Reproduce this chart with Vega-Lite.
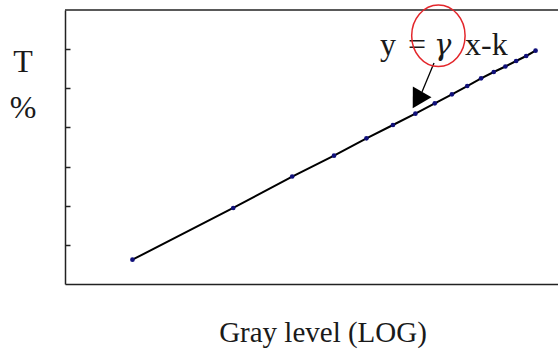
{
  "$schema": "https://vega.github.io/schema/vega-lite/v6.json",
  "width": 493,
  "height": 274,
  "autosize": {"type": "none"},
  "padding": {"left": 65, "top": 10, "right": 0, "bottom": 66},
  "background": "white",
  "config": {"view": {"stroke": null}},
  "datasets": {
    "series": [
      {"gray": 16, "t": 6.21},
      {"gray": 32, "t": 19.42},
      {"gray": 48, "t": 27.46},
      {"gray": 64, "t": 32.78},
      {"gray": 80, "t": 37.22},
      {"gray": 96, "t": 40.62},
      {"gray": 112, "t": 43.51},
      {"gray": 128, "t": 46.16},
      {"gray": 144, "t": 48.46},
      {"gray": 160, "t": 50.58},
      {"gray": 176, "t": 52.55},
      {"gray": 192, "t": 54.16},
      {"gray": 208, "t": 55.57},
      {"gray": 224, "t": 56.97},
      {"gray": 240, "t": 58.25},
      {"gray": 256, "t": 59.60}
    ],
    "eq": [
      {"label": "y", "gray": 87.8, "t": 58.5},
      {"label": "=", "gray": 106.5, "t": 58.5},
      {"label": "x-k", "gray": 157.6, "t": 58.5}
    ],
    "gamma": [{"label": "γ", "gray": 127.3, "t": 58.5}],
    "shaft": [{"gray": 127.3, "t": 56.46, "gray2": 117.2, "t2": 49.05}],
    "head": [{"gray": 113.6, "t": 46.99}],
    "ellipse": [{"gray": 131.2, "t": 63.41}],
    "top": [{"t": 70}]
  },
  "layer": [
    {
      "data": {"name": "series"},
      "mark": {"type": "line", "color": "#000000", "strokeWidth": 2},
      "encoding": {
        "x": {
          "field": "gray", "type": "quantitative",
          "scale": {"type": "log", "domain": [10.06, 298.7], "nice": false, "zero": false},
          "axis": {
            "title": "Gray level (LOG)", "labels": false, "ticks": false, "grid": false,
            "domain": true, "domainColor": "#222222", "domainWidth": 1.5,
            "titleFont": "Liberation Serif", "titleFontSize": 29, "titleFontWeight": "normal",
            "titleColor": "#1a1a1a", "titleX": 257.5, "titleY": 57, "titleAlign": "center",
            "titleBaseline": "alphabetic"
          }
        },
        "y": {
          "field": "t", "type": "quantitative",
          "scale": {"domain": [0, 70], "nice": false, "zero": false},
          "axis": {
            "title": ["T", "%"], "values": [10, 20, 30, 40, 50, 60], "labels": false,
            "ticks": true, "tickSize": -5, "tickColor": "#222222", "tickWidth": 1.5, "grid": false,
            "domain": true, "domainColor": "#222222", "domainWidth": 1.5,
            "titleFont": "Liberation Serif", "titleFontSize": 32, "titleFontWeight": "normal",
            "titleColor": "#1a1a1a", "titleAngle": 0, "titleX": -42.5, "titleY": 36.4,
            "titleAlign": "center", "titleBaseline": "top", "titleLineHeight": 46.3
          }
        }
      }
    },
    {
      "data": {"name": "series"},
      "mark": {"type": "point", "filled": true, "color": "#10107a", "size": 22, "opacity": 1},
      "encoding": {
        "x": {"field": "gray", "type": "quantitative"},
        "y": {"field": "t", "type": "quantitative"}
      }
    },
    {
      "data": {"name": "top"},
      "mark": {"type": "rule", "color": "#222222", "strokeWidth": 1.5},
      "encoding": {"y": {"field": "t", "type": "quantitative"}}
    },
    {
      "data": {"name": "eq"},
      "mark": {"type": "text", "font": "Liberation Serif", "fontSize": 32, "align": "left", "baseline": "alphabetic", "color": "#1a1a1a"},
      "encoding": {
        "x": {"field": "gray", "type": "quantitative"},
        "y": {"field": "t", "type": "quantitative"},
        "text": {"field": "label"}
      }
    },
    {
      "data": {"name": "gamma"},
      "mark": {"type": "text", "font": "DejaVu Serif", "fontSize": 29, "fontStyle": "italic", "align": "left", "baseline": "alphabetic", "color": "#1a1a1a"},
      "encoding": {
        "x": {"field": "gray", "type": "quantitative"},
        "y": {"field": "t", "type": "quantitative"},
        "text": {"field": "label"}
      }
    },
    {
      "data": {"name": "shaft"},
      "mark": {"type": "rule", "color": "#000000", "strokeWidth": 1.3},
      "encoding": {
        "x": {"field": "gray", "type": "quantitative"},
        "y": {"field": "t", "type": "quantitative"},
        "x2": {"field": "gray2"},
        "y2": {"field": "t2"}
      }
    },
    {
      "data": {"name": "head"},
      "mark": {"type": "point", "filled": true, "color": "#000000", "opacity": 1, "size": 361,
               "shape": "M 0 -1 L 1.13 1 L -1.13 1 Z", "angle": 209.8},
      "encoding": {
        "x": {"field": "gray", "type": "quantitative"},
        "y": {"field": "t", "type": "quantitative"}
      }
    },
    {
      "data": {"name": "ellipse"},
      "mark": {"type": "point", "filled": false, "color": "#e3262b", "strokeWidth": 1.5, "opacity": 1, "size": 3795,
               "shape": "M -0.867 0 A 0.867 1 0 1 1 0.867 0 A 0.867 1 0 1 1 -0.867 0 Z"},
      "encoding": {
        "x": {"field": "gray", "type": "quantitative"},
        "y": {"field": "t", "type": "quantitative"}
      }
    }
  ]
}
